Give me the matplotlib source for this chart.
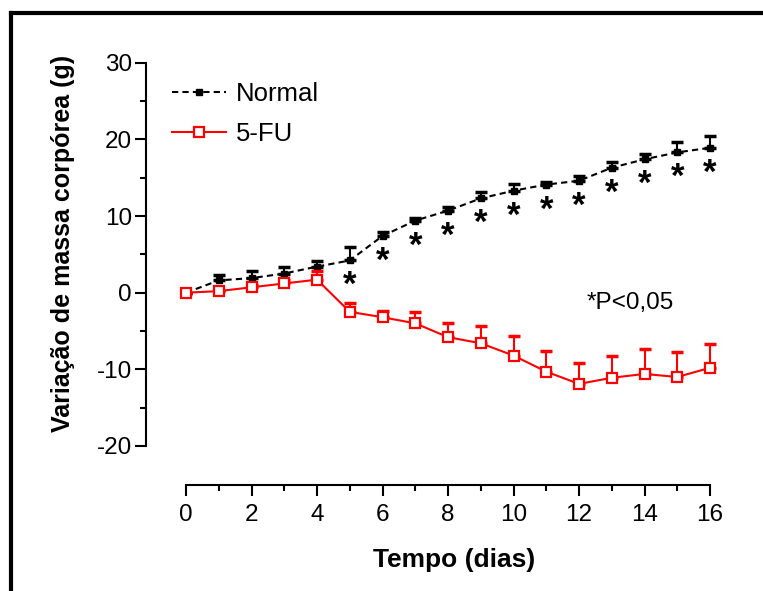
import numpy as np
import matplotlib
matplotlib.use('Agg')
import matplotlib.pyplot as plt
from matplotlib.lines import Line2D

plt.rcParams['font.family'] = ['Liberation Sans', 'DejaVu Sans']
plt.rcParams['axes.unicode_minus'] = False

# =====================================================
# DADOS
# =====================================================
dias = np.arange(0, 17)
normal_media = [0, 1.6, 1.9, 2.5, 3.4, 4.2, 7.4, 9.4, 10.7, 12.3, 13.3, 14.1, 14.6, 16.3, 17.4, 18.3, 18.9]
normal_epm = [0, 0.7, 0.9, 0.8, 0.7, 1.8, 0.5, 0.3, 0.5, 0.8, 0.9, 0.4, 0.6, 0.8, 0.7, 1.3, 1.5]
fu_media = [0, 0.2, 0.7, 1.2, 1.7, -2.5, -3.2, -4.0, -5.8, -6.6, -8.2, -10.3, -11.9, -11.1, -10.6, -11.0, -9.8]
fu_epm = [0, 0.1, 0.3, 0.5, 1.1, 1.1, 0.8, 1.5, 1.8, 2.3, 2.5, 2.7, 2.7, 2.8, 3.2, 3.3, 3.1]
dias_signif = list(range(5, 17))

W, H = 763, 591
fig = plt.figure(figsize=(W / 100, H / 100), dpi=100)
ax = fig.add_axes([186 / W, 1 - 446 / H, 524 / W, 383.3 / H])

# Normal
ax.errorbar(dias, normal_media, yerr=[np.zeros(len(dias)), normal_epm], fmt='none',
            ecolor='black', elinewidth=1.5, capsize=4, capthick=2.5, clip_on=False, zorder=2)
ax.plot(dias, normal_media, color='black', ls=(0, (3, 2)), lw=1.5, marker='s', ms=4,
        mfc='black', mec='black', label='Normal', clip_on=False, zorder=3)

# 5-FU
ax.errorbar(dias, fu_media, yerr=[np.zeros(len(dias)), fu_epm], fmt='none',
            ecolor='red', elinewidth=1.5, capsize=4, capthick=2.5, clip_on=False, zorder=4)
ax.plot(dias, fu_media, color='red', lw=1.5, marker='s', ms=7.5, mfc='white', mec='red',
        mew=1.6, label='5-FU', clip_on=False, zorder=5)

# asteriscos
for d in dias_signif:
    ax.text(d, normal_media[d] - 3.3, '*', ha='center', va='center', fontsize=25,
            fontweight='bold', color='black')

ax.text(13.55, -1.4, '*P<0,05', ha='center', va='center', fontsize=17.5)

ax.set_xlim(0, 16)
ax.set_ylim(-20, 30)
ax.set_xticks(range(0, 17, 2))
ax.set_xticks(range(0, 17), minor=True)
ax.set_yticks(range(-20, 31, 10))
ax.set_yticks(range(-20, 31, 5), minor=True)

for s in ['top', 'right']:
    ax.spines[s].set_visible(False)
ax.spines['left'].set_position(('outward', 28.8))
ax.spines['bottom'].set_position(('outward', 28.1))
ax.spines['left'].set_linewidth(1.5)
ax.spines['bottom'].set_linewidth(1.5)
ax.tick_params(axis='both', which='major', length=8, width=1.5, labelsize=17.5)
ax.tick_params(axis='both', which='minor', length=4.5, width=1.5)
ax.tick_params(axis='y', pad=2)
ax.tick_params(axis='x', pad=6)

fig.text(63 / W, 1 - 243 / H, 'Variação de massa corpórea (g)', rotation=90,
         ha='center', va='center', fontsize=18, fontweight='bold')
fig.text(454 / W, 1 - 560 / H, 'Tempo (dias)', ha='center', va='center',
         fontsize=19, fontweight='bold')

ax.legend(loc='center left', bbox_to_anchor=(172 / W, 1 - 114 / H),
          bbox_transform=fig.transFigure, frameon=False, fontsize=18.5,
          handlelength=2.1, handletextpad=0.4, labelspacing=0.6,
          borderpad=0, borderaxespad=0)

# moldura
fig.add_artist(Line2D([11 / W, 11 / W], [0, 1 - 13 / H], color='black', lw=3,
                      transform=fig.transFigure, solid_capstyle='projecting'))
fig.add_artist(Line2D([11 / W, 1], [1 - 13 / H, 1 - 13 / H], color='black', lw=3,
                      transform=fig.transFigure, solid_capstyle='projecting'))

fig.savefig('out.png', dpi=100)
